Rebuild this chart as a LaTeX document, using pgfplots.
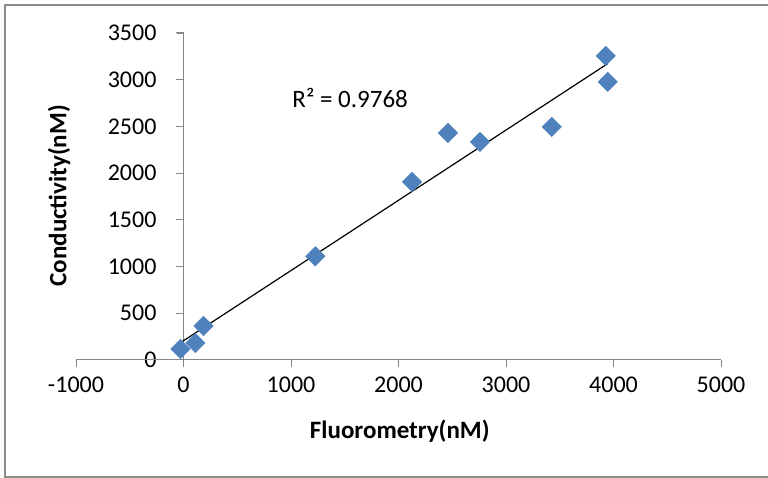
\documentclass[border=0pt]{standalone}
\usepackage{pgfplots}
\pgfplotsset{compat=1.18}
\usepackage{fontspec}
\setmainfont{Carlito}
\definecolor{exblue}{HTML}{4F81BD}
\definecolor{axgray}{HTML}{868686}
\definecolor{bordergray}{HTML}{8C8C8C}
\begin{document}
\begin{tikzpicture}[x=1pt,y=1pt]
\useasboundingbox (0,0) rectangle (768,478);
\draw[bordergray, line width=1.2pt] (768,473) -- (5,473) -- (5,1) -- (768,1);
% y axis line at x = 0
\begin{axis}[
  scale only axis,
  width=10pt, height=327pt,
  at={(183pt,118pt)}, anchor=south west,
  xmin=0, xmax=1, ymin=0, ymax=3500,
  axis y line=left, axis x line=none,
  ytick pos=left,
  axis line style={-, axgray, line width=1pt},
  ytick style={axgray, line width=1pt},
  tick align=outside, major tick length=7pt,
  ytick={0,500,1000,1500,2000,2500,3000,3500},
  /pgf/number format/assume math mode=true,
  /pgf/number format/1000 sep={},
  tick label style={font=\fontsize{24}{28}\selectfont},
  yticklabel style={anchor=east, xshift=-16pt},
  ylabel={\textbf{Conductivity(nM)}},
  label style={font=\fontsize{25}{30}\selectfont},
  ylabel style={at={(rel axis cs:-12.4,0.502)}, anchor=center},
  clip=false,
]
\end{axis}
\begin{axis}[
  scale only axis,
  width=645pt, height=327pt,
  at={(76pt,118pt)}, anchor=south west,
  xmin=-1000, xmax=5000, ymin=0, ymax=3500,
  axis x line=bottom, axis y line=none,
  axis line style={-, axgray, line width=1pt},
  every tick/.style={axgray, line width=1pt},
  tick align=outside, major tick length=7pt,
  xtick={-1000,0,1000,2000,3000,4000,5000},
  /pgf/number format/assume math mode=true,
  /pgf/number format/1000 sep={},
  tick label style={font=\fontsize{24}{28}\selectfont},
  xticklabel style={yshift=-6pt},
  xlabel={\textbf{Fluorometry(nM)}},
  label style={font=\fontsize{25}{30}\selectfont},
  xlabel style={at={(rel axis cs:0.502,-0.217)}, anchor=center},
  clip=false,
]
\pgfplotsinvokeforeach{500,1000,1500,2000,2500,3000,3500}{
  \draw[axgray, line width=1.2pt] (axis cs:0,#1) -- (axis cs:-65,#1);
}
\addplot[only marks, mark=square*, mark size=6.9pt, mark options={rotate=45, fill=exblue, draw=exblue}]
coordinates {
(-28,118) (111,182) (186,364) (1226,1110) (2126,1906)
(2460,2430) (2758,2334) (3426,2495) (3928,3255) (3946,2977)
};
\addplot[black, line width=1.2pt, no marks] coordinates {(-28,185) (3946,3172)};
\node[anchor=west, font=\fontsize{25}{30}\selectfont, inner sep=0pt] at (axis cs:1012,2800) {R² = 0.9768};
\end{axis}
\end{tikzpicture}
\end{document}
